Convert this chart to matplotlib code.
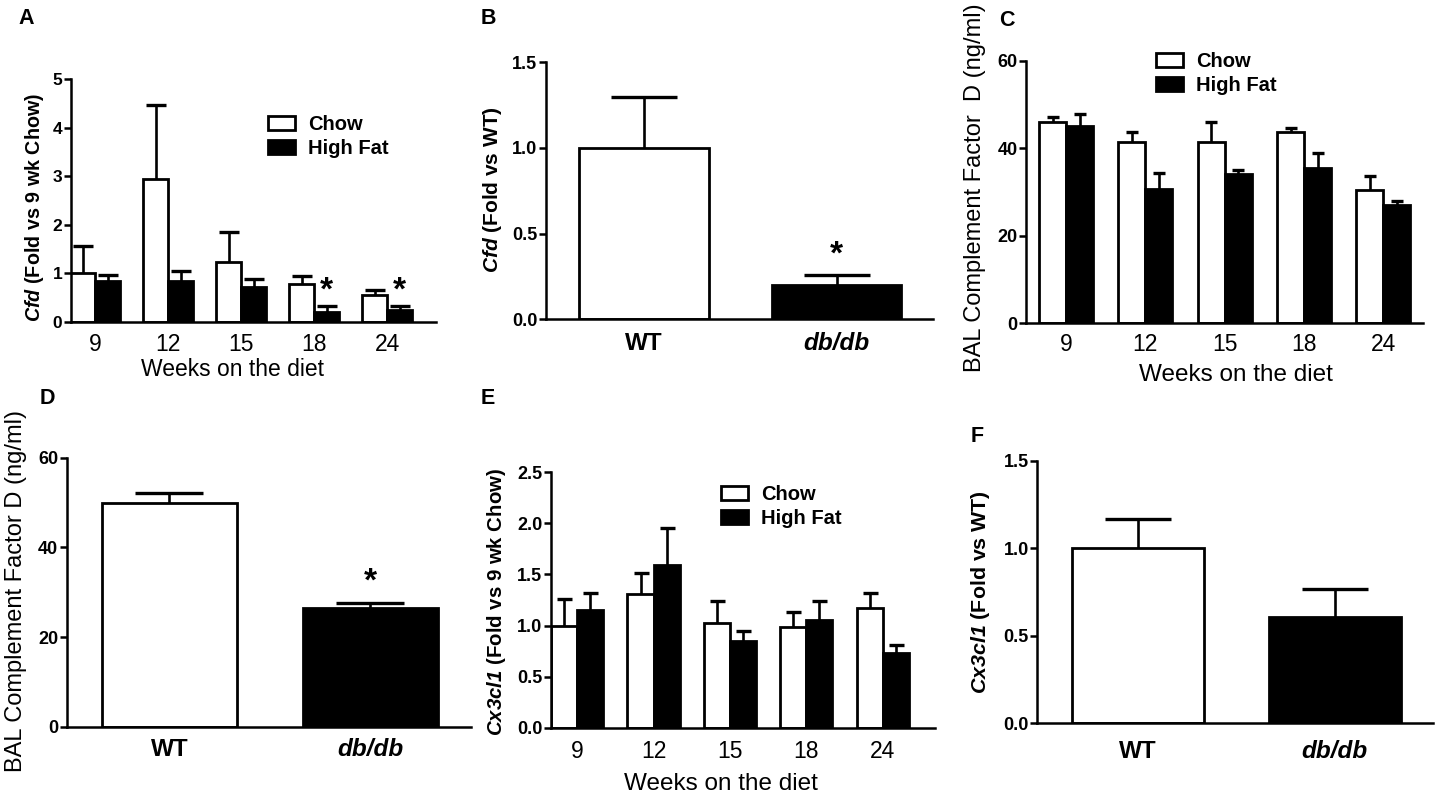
import numpy as np
import matplotlib.pyplot as plt

plt.rcParams['font.family'] = ['Liberation Sans', 'DejaVu Sans']
plt.rcParams['mathtext.fontset'] = 'custom'
plt.rcParams['mathtext.rm'] = 'Liberation Sans'
plt.rcParams['mathtext.it'] = 'Liberation Sans:italic'
plt.rcParams['mathtext.bf'] = 'Liberation Sans:bold'
plt.rcParams['mathtext.bfit'] = 'Liberation Sans:bold:italic'

#%% data

weeks = ['9', '12', '15', '18', '24']
groups = ['WT', 'db/db']

# A: Cfd fold vs 9 wk chow
a_chow = [1.00, 2.93, 1.22, 0.77, 0.54]
a_chow_err = [0.55, 1.53, 0.63, 0.17, 0.12]
a_hf = [0.83, 0.83, 0.71, 0.19, 0.24]
a_hf_err = [0.14, 0.22, 0.17, 0.14, 0.08]
a_star = [3, 4]

# B: Cfd fold vs WT
b_vals = [1.00, 0.20]
b_err = [0.30, 0.06]
b_star = [1]

# C: BAL complement factor D, diet
c_chow = [45.9, 41.4, 41.4, 43.8, 30.5]
c_chow_err = [1.3, 2.4, 4.5, 0.9, 3.2]
c_hf = [45.1, 30.6, 34.0, 35.4, 27.0]
c_hf_err = [2.7, 3.8, 1.0, 3.4, 0.9]

# D: BAL complement factor D, db/db
d_vals = [49.8, 26.4]
d_err = [2.4, 1.3]
d_star = [1]

# E: Cx3cl1 fold vs 9 wk chow
e_chow = [1.00, 1.31, 1.02, 0.99, 1.17]
e_chow_err = [0.26, 0.20, 0.22, 0.14, 0.15]
e_hf = [1.15, 1.59, 0.85, 1.05, 0.73]
e_hf_err = [0.17, 0.36, 0.10, 0.19, 0.08]

# F: Cx3cl1 fold vs WT
f_vals = [1.00, 0.606]
f_err = [0.17, 0.164]

#%% layout (pixels of the 1439x796 picture)

W, H = 1439, 796
fig = plt.figure(figsize=(W / 100, H / 100), dpi=100)

# left, top, right, bottom of the plotting area
rects = {
    'A': (70.7, 79.0, 436.0, 321.7),
    'B': (545.7, 62.3, 933.0, 319.3),
    'C': (1026.0, 60.7, 1423.0, 323.3),
    'D': (66.7, 457.7, 471.0, 726.7),
    'E': (550.7, 472.3, 935.0, 727.7),
    'F': (1037.3, 461.0, 1433.0, 723.3),
}

LW = 2.0


def add_ax(key):
    l, t, r, b = rects[key]
    ax = fig.add_axes([l / W, 1 - b / H, (r - l) / W, (b - t) / H])
    ax.spines['top'].set_visible(False)
    ax.spines['right'].set_visible(False)
    ax.spines['left'].set_linewidth(1.8)
    ax.spines['bottom'].set_linewidth(1.8)
    return ax


def frac(key, x, y):
    l, t, r, b = rects[key]
    return (x - l) / (r - l), (b - y) / (b - t)


def up_errorbar(ax, x, y, err, capsize):
    eb = ax.errorbar(x, y, yerr=[np.zeros(len(err)), err], fmt='none',
                     ecolor='black', elinewidth=1.9, capsize=capsize,
                     capthick=2.4, zorder=3)
    eb[1][0].set_visible(False)


def diet_panel(key, chow, chow_err, hf, hf_err, width, capsize, xlim, ylim, yticks, ytick_size, xpad):
    ax = add_ax(key)
    x = np.arange(len(weeks))
    ax.bar(x - width / 2, chow, width, color='white', edgecolor='black', linewidth=LW, label='Chow', zorder=2)
    ax.bar(x + width / 2, hf, width, color='black', edgecolor='black', linewidth=LW, label='High Fat', zorder=2)
    up_errorbar(ax, x - width / 2, chow, chow_err, capsize)
    up_errorbar(ax, x + width / 2, hf, hf_err, capsize)
    ax.set_xlim(*xlim)
    ax.set_ylim(*ylim)
    ax.set_yticks(yticks)
    ax.set_xticks(x)
    ax.set_xticklabels(weeks, fontsize=16.5)
    ax.tick_params(axis='x', length=0, pad=xpad)
    ax.tick_params(axis='y', length=5, width=1.8, pad=1, labelsize=ytick_size)
    for lab in ax.get_yticklabels():
        lab.set_fontweight('bold')
    return ax, x


def wt_panel(key, vals, err, capsize, ylim, yticks, xpad):
    ax = add_ax(key)
    x = np.arange(len(groups))
    ax.bar(x, vals, 0.67, color=['white', 'black'], edgecolor='black', linewidth=LW, zorder=2)
    up_errorbar(ax, x, vals, err, capsize)
    ax.set_xlim(-0.51, 1.50)
    ax.set_ylim(*ylim)
    ax.set_yticks(yticks)
    ax.set_xticks(x)
    ax.set_xticklabels(groups, fontsize=17.5, fontweight='bold')
    ax.get_xticklabels()[1].set_fontstyle('italic')
    ax.tick_params(axis='x', length=0, pad=xpad)
    ax.tick_params(axis='y', length=5, width=1.8, pad=1, labelsize=13)
    for lab in ax.get_yticklabels():
        lab.set_fontweight('bold')
    return ax, x


def stars(ax, xs, ys):
    for xx, yy in zip(xs, ys):
        ax.annotate('*', xy=(xx, yy), xytext=(0, -7), textcoords='offset points',
                    ha='center', va='center', fontsize=24, fontweight='bold')


def ylabel(ax, key, text, x, y, size, weight):
    ax.set_ylabel(text, fontsize=size, fontweight=weight, va='center')
    ax.yaxis.set_label_coords(*frac(key, x, y))


def xlabel(ax, key, text, x, y, size):
    ax.set_xlabel(text, fontsize=size, va='center')
    ax.xaxis.set_label_coords(*frac(key, x, y))


def legend(ax, key, x, y):
    ax.legend(loc='upper left', bbox_to_anchor=frac(key, x, y), frameon=False,
              prop={'weight': 'bold', 'size': 14.5}, handlelength=1.35, handleheight=0.75,
              handletextpad=0.65, labelspacing=0.25, borderpad=0, borderaxespad=0)


#%% A

ax, x = diet_panel('A', a_chow, a_chow_err, a_hf, a_hf_err, 0.342, 7.2,
                   (-0.333, 4.67), (0, 5), [0, 1, 2, 3, 4, 5], 12.5, 8)
stars(ax, [x[i] + 0.342 / 2 for i in a_star], [0.83 for i in a_star])
ylabel(ax, 'A', r'$\mathbfit{Cfd}$ (Fold vs 9 wk Chow)', 35, 207, 14.2, 'bold')
xlabel(ax, 'A', 'Weeks on the diet', 232.5, 369, 16.5)
legend(ax, 'A', 268, 115)

#%% B

ax, x = wt_panel('B', b_vals, b_err, 23.6, (0, 1.5), [0.0, 0.5, 1.0, 1.5], 9)
ax.set_yticklabels(['0.0', '0.5', '1.0', '1.5'], fontweight='bold')
stars(ax, [x[i] for i in b_star], [0.432 for i in b_star])
ylabel(ax, 'B', r'$\mathbfit{Cfd}$ (Fold vs WT)', 492.5, 190, 15, 'bold')

#%% C

ax, x = diet_panel('C', c_chow, c_chow_err, c_hf, c_hf_err, 0.34, 4.0,
                   (-0.505, 4.50), (0, 60), [0, 20, 40, 60], 13, 7.2)
ylabel(ax, 'C', 'BAL Complement Factor  D (ng/ml)', 975, 188, 17, 'normal')
xlabel(ax, 'C', 'Weeks on the diet', 1235.8, 375, 17.5)
legend(ax, 'C', 1156, 52)

#%% D

ax, x = wt_panel('D', d_vals, d_err, 24.8, (0, 60), [0, 20, 40, 60], 8.3)
stars(ax, [x[i] for i in d_star], [34.4 for i in d_star])
ylabel(ax, 'D', 'BAL Complement Factor D (ng/ml)', 16, 591, 17, 'normal')

#%% E

ax, x = diet_panel('E', e_chow, e_chow_err, e_hf, e_hf_err, 0.34, 5.4,
                   (-0.344, 4.68), (0, 2.5), [0.0, 0.5, 1.0, 1.5, 2.0, 2.5], 13, 8.9)
ax.set_yticklabels(['0.0', '0.5', '1.0', '1.5', '2.0', '2.5'], fontweight='bold')
ylabel(ax, 'E', r'$\mathbfit{Cx3cl1}$ (Fold vs 9 wk Chow)', 497, 602, 14.7, 'bold')
xlabel(ax, 'E', 'Weeks on the diet', 720.8, 784, 17.5)
legend(ax, 'E', 721, 485)

#%% F

ax, x = wt_panel('F', f_vals, f_err, 24.0, (0, 1.5), [0.0, 0.5, 1.0, 1.5], 12)
ax.set_yticklabels(['0.0', '0.5', '1.0', '1.5'], fontweight='bold')
ylabel(ax, 'F', r'$\mathbfit{Cx3cl1}$ (Fold vs WT)', 981, 591.7, 15.4, 'bold')

#%% panel letters

for letter, (px, py) in {'A': (26, 19), 'B': (488, 19), 'C': (1007, 20),
                         'D': (47, 399), 'E': (488, 399), 'F': (977, 437)}.items():
    fig.text(px / W, 1 - py / H, letter, fontsize=15.5, fontweight='bold', ha='center', va='center')

plt.savefig('out.png', dpi=100)
